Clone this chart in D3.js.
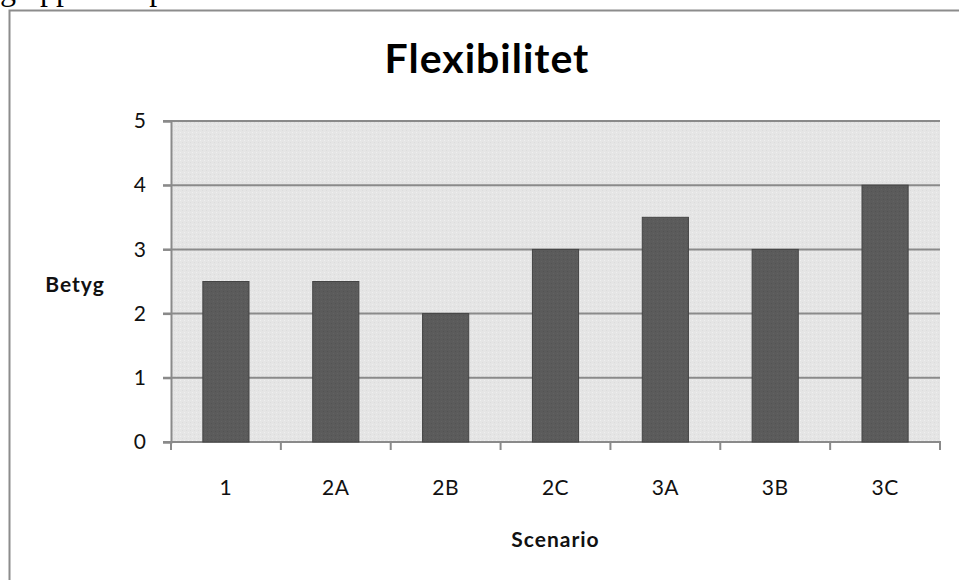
<!DOCTYPE html>
<html>
<head>
<meta charset="utf-8">
<script src="https://cdn.jsdelivr.net/npm/d3@7/dist/d3.min.js"></script>
<style>
  html, body { margin: 0; padding: 0; background: #fff; overflow: hidden; }
  svg { display: block; }
</style>
</head>
<body>
<svg id="chart" width="959" height="580"></svg>
<script>
// Betyg per scenario for flexibilitet
const scenarios = ["1", "2A", "2B", "2C", "3A", "3B", "3C"];
const betyg = [2.5, 2.5, 2, 3, 3.5, 3, 4];
const yTicks = [0, 1, 2, 3, 4, 5];

const svg = d3.select("#chart");
const font = "Lato, 'Open Sans', sans-serif";

// Surrounding document text, running off the page top
svg.append("text")
  .attr("x", 0).attr("y", 0)
  .attr("font-family", "'Liberation Serif', 'Times New Roman', serif")
  .attr("font-size", 32)
  .attr("fill", "#000")
  .text("g uppdelad på data");

// Chart frame
svg.append("rect")
  .attr("x", 9.5).attr("y", 10.5)
  .attr("width", 980).attr("height", 600)
  .attr("fill", "#fff")
  .attr("stroke", "#8c8c8c")
  .attr("stroke-width", 2);

const plot = { left: 171, right: 940, top: 121, bottom: 442 };

const x = d3.scaleBand()
  .domain(scenarios)
  .range([plot.left, plot.right])
  .padding(0);

const y = d3.scaleLinear()
  .domain([0, 5])
  .range([plot.bottom, plot.top]);

// Fine speckle for plot and bar fills
const defs = svg.append("defs");
const bgPat = defs.append("pattern")
  .attr("id", "bgTex").attr("patternUnits", "userSpaceOnUse")
  .attr("width", 4).attr("height", 4);
bgPat.append("rect").attr("width", 4).attr("height", 4).attr("fill", "#e5e5e5");
bgPat.append("rect").attr("x", 0).attr("y", 0).attr("width", 1).attr("height", 1).attr("fill", "#efefef");
bgPat.append("rect").attr("x", 2).attr("y", 2).attr("width", 1).attr("height", 1).attr("fill", "#dcdcdc");

const barPat = defs.append("pattern")
  .attr("id", "barTex").attr("patternUnits", "userSpaceOnUse")
  .attr("width", 4).attr("height", 4);
barPat.append("rect").attr("width", 4).attr("height", 4).attr("fill", "#5b5b5b");
barPat.append("rect").attr("x", 1).attr("y", 1).attr("width", 1).attr("height", 1).attr("fill", "#626262");
barPat.append("rect").attr("x", 3).attr("y", 3).attr("width", 1).attr("height", 1).attr("fill", "#535353");

// Plot area background
svg.append("rect")
  .attr("x", plot.left).attr("y", plot.top)
  .attr("width", plot.right - plot.left)
  .attr("height", plot.bottom - plot.top)
  .attr("fill", "url(#bgTex)");

// Horizontal gridlines with tick stubs on the left
svg.append("g")
  .selectAll("line")
  .data(yTicks.filter(d => d > 0))
  .join("line")
  .attr("x1", plot.left - 8).attr("x2", plot.right)
  .attr("y1", d => y(d)).attr("y2", d => y(d))
  .attr("stroke", "#8a8a8a")
  .attr("stroke-width", 2);

// Y axis
const yAxis = svg.append("g")
  .attr("transform", `translate(${plot.left},0)`)
  .call(d3.axisLeft(y).tickValues(yTicks).tickSize(8).tickPadding(17).tickFormat(d3.format("d")));
yAxis.select(".domain").attr("stroke", "#8a8a8a").attr("stroke-width", 2);
yAxis.selectAll(".tick line").attr("stroke", "#8a8a8a").attr("stroke-width", 2);
yAxis.selectAll(".tick text")
  .attr("font-family", font).attr("font-size", 21).attr("fill", "#111");

// X axis with ticks at the band boundaries
const xAxisG = svg.append("g").attr("transform", `translate(0,${plot.bottom})`);
xAxisG.append("line")
  .attr("x1", plot.left - 8).attr("x2", plot.right + 1)
  .attr("y1", 0).attr("y2", 0)
  .attr("stroke", "#8a8a8a").attr("stroke-width", 2);
const edges = scenarios.map(d => x(d)).concat([x(scenarios[scenarios.length - 1]) + x.bandwidth()]);
xAxisG.selectAll("line.tk")
  .data(edges)
  .join("line").attr("class", "tk")
  .attr("x1", d => d).attr("x2", d => d)
  .attr("y1", 0).attr("y2", 8)
  .attr("stroke", "#8a8a8a").attr("stroke-width", 2);
xAxisG.selectAll("text")
  .data(scenarios)
  .join("text")
  .attr("x", d => x(d) + x.bandwidth() / 2)
  .attr("y", 53)
  .attr("text-anchor", "middle")
  .attr("font-family", font).attr("font-size", 21).attr("fill", "#111")
  .attr("letter-spacing", 0.5)
  .text(d => d);

// Bars
const barW = x.bandwidth() * 0.42;
svg.append("g")
  .selectAll("rect")
  .data(betyg)
  .join("rect")
  .attr("x", (d, i) => x(scenarios[i]) + (x.bandwidth() - barW) / 2)
  .attr("y", d => y(d))
  .attr("width", barW)
  .attr("height", d => y(0) - y(d))
  .attr("fill", "url(#barTex)")
  .attr("stroke", "#444")
  .attr("stroke-width", 1);

// Titles
svg.append("text")
  .attr("x", 487).attr("y", 73)
  .attr("text-anchor", "middle")
  .attr("font-family", font).attr("font-weight", "bold")
  .attr("font-size", 41).attr("letter-spacing", 1).attr("fill", "#000")
  .text("Flexibilitet");

svg.append("text")
  .attr("x", 75).attr("y", 292)
  .attr("text-anchor", "middle")
  .attr("font-family", font).attr("font-weight", "bold")
  .attr("font-size", 21).attr("letter-spacing", 1).attr("fill", "#111")
  .text("Betyg");

svg.append("text")
  .attr("x", (plot.left + plot.right) / 2).attr("y", 547)
  .attr("text-anchor", "middle")
  .attr("font-family", font).attr("font-weight", "bold")
  .attr("font-size", 21).attr("letter-spacing", 1).attr("fill", "#111")
  .text("Scenario");
</script>
</body>
</html>
